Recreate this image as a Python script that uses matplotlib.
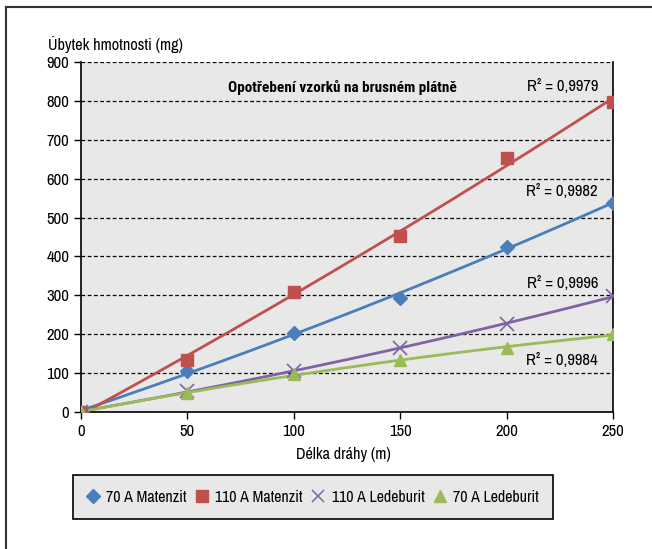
import numpy as np
import matplotlib
matplotlib.use("Agg")
import matplotlib.pyplot as plt
from matplotlib.lines import Line2D

plt.rcParams['font.family'] = ['Archivo Narrow', 'DejaVu Sans']

# data
draha = [0, 50, 100, 150, 200, 250]
matenzit_70 = [0, 105, 204, 294, 425, 538]
matenzit_110 = [0, 134, 309, 452, 654, 798]
ledeburit_110 = [0, 55, 105, 165, 226, 298]
ledeburit_70 = [0, 50, 97, 133, 164, 200]

series_names = ["70 A Matenzit", "110 A Matenzit", "110 A Ledeburit", "70 A Ledeburit"]
r2_labels = ["R² = 0,9979", "R² = 0,9982", "R² = 0,9996", "R² = 0,9984"]
r2_y = [838, 568, 330, 132]

colors = ["#4A7EBB", "#C0504D", "#8064A2", "#9BBB59"]
markers = ["D", "s", "x", "^"]
msizes = [7.5, 8.5, 9.5, 9]

fig = plt.figure(figsize=(6.52, 5.49), dpi=100)
ax = fig.add_axes([81 / 652, 1 - 412 / 549, 532 / 652, 350 / 549])
ax.set_facecolor("#E8E8E8")

all_series = [matenzit_70, matenzit_110, ledeburit_110, ledeburit_70]
xs = np.linspace(0, 250, 200)
for ys, c, m, ms, name in zip(all_series, colors, markers, msizes, series_names):
    # trend line (2nd order polynomial, like the Excel trendline)
    coef = np.polyfit(draha, ys, 2)
    ax.plot(xs, np.polyval(coef, xs), color=c, lw=2, zorder=3)
    if m == "x":
        ax.plot(draha, ys, ls="none", marker=m, ms=ms, mew=1.2, color=c, zorder=4, label=name)
    else:
        ax.plot(draha, ys, ls="none", marker=m, ms=ms, color=c, mec=c, zorder=4, label=name)

ax.set_xlim(0, 250)
ax.set_ylim(0, 900)
ax.set_xticks(range(0, 251, 50))
ax.set_yticks(range(0, 901, 100))
ax.yaxis.grid(True, color="black", ls=(0, (3, 2)), lw=0.9)
ax.set_axisbelow(True)
ax.tick_params(labelsize=12, length=5, width=1, direction="out", colors="black")
for s in ["left", "bottom", "right"]:
    ax.spines[s].set_linewidth(1.2)
    ax.spines[s].set_color("black")
ax.spines["top"].set_visible(False)

for txt, yv in zip(r2_labels, r2_y):
    ax.text(243, yv, txt, ha="right", va="center", fontsize=12)

ax.text(123, 835, "Opotřebení vzorků na brusném plátně", ha="center", va="center",
        fontsize=11, fontweight="bold",
        family=['Roboto Condensed', 'Barlow Condensed', 'Archivo Narrow', 'DejaVu Sans'])

fig.text(48 / 652, 1 - 44 / 549, "Úbytek hmotnosti (mg)", ha="left", va="center", fontsize=11.7)
fig.text(343 / 652, 1 - 455 / 549, "Délka dráhy (m)", ha="center", va="center", fontsize=11.7)

handles = []
for c, m, ms, name in zip(colors, markers, msizes, series_names):
    handles.append(Line2D([], [], ls="none", marker=m, ms=ms * 0.95, color=c, mec=c,
                          mew=1.1 if m == "x" else 1, label=name))
leg = fig.legend(handles=handles, loc="center", ncol=4,
                 bbox_to_anchor=(313 / 652, 1 - 497 / 549),
                 fontsize=11.5, frameon=True, fancybox=False, handlelength=0.7,
                 handletextpad=0.5, borderpad=0.9, borderaxespad=0, columnspacing=0.6)
leg.get_frame().set_facecolor("#E8E8E8")
leg.get_frame().set_edgecolor("black")
leg.get_frame().set_linewidth(1.2)
leg.get_frame().set_alpha(1)

# outer frame (only top and left visible)
fig.add_artist(Line2D([6 / 652, 1], [1 - 7 / 549, 1 - 7 / 549], color="#333333", lw=1.5))
fig.add_artist(Line2D([6 / 652, 6 / 652], [0, 1 - 7 / 549], color="#333333", lw=1.5))

fig.savefig("out.png", dpi=100)
